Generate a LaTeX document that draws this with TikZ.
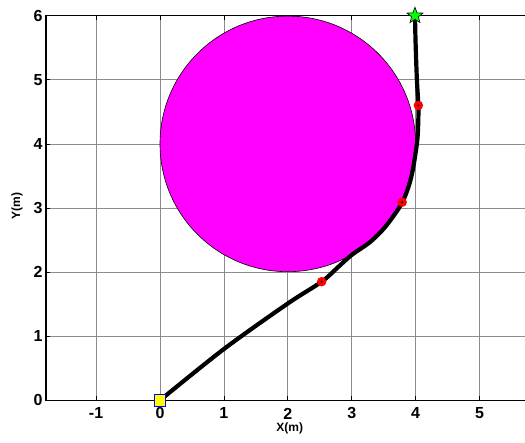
\documentclass[tikz,border=0pt]{standalone}
\usepackage{fontspec}
\setmainfont{Liberation Sans}
\usetikzlibrary{shapes.geometric}
\definecolor{mag}{RGB}{255,0,255}
\definecolor{grn}{RGB}{0,255,0}
\definecolor{yel}{RGB}{255,255,0}
\begin{document}
\begin{tikzpicture}[x=63.9pt,y=64.1pt,
  gridline/.style={draw=black!45,line width=0.7pt},
  axisline/.style={draw=black,line width=1.1pt},
  tickmark/.style={draw=black,line width=0.8pt},
  ticklab/.style={font=\fontsize{16}{18}\selectfont\bfseries,inner sep=0pt},
  axlab/.style={font=\fontsize{12}{14}\selectfont\bfseries,inner sep=0pt},
  traj/.style={draw=black,line width=4.2pt,line cap=round,line join=round},
  waypt/.style={circle,fill=red,minimum size=9.5pt,inner sep=0pt},
  wayctr/.style={circle,fill=black,minimum size=2.2pt,inner sep=0pt}]
\useasboundingbox (-2.504,-0.666) rectangle (5.712,6.245);
% grid
\foreach \gx in {-1,0,...,5} \draw[gridline] (\gx,0) -- (\gx,6);
\foreach \gy in {1,...,5} \draw[gridline] (-1.784,\gy) -- (5.712,\gy);
% ticks
\foreach \gx in {-1,0,...,5} {
  \draw[tickmark] (\gx,0) -- (\gx,0.07);
  \draw[tickmark] (\gx,6) -- (\gx,5.93);
}
\foreach \gy in {0,...,6} \draw[tickmark] (-1.784,\gy) -- (-1.72,\gy);
% obstacle
\node[circle,draw=black,line width=0.6pt,fill=mag,minimum size=255.6pt,inner sep=0pt] (obst) at (2,4) {};
% axes
\draw[axisline] (5.712,6) -- (-1.784,6) -- (-1.784,0) -- (5.712,0);
% tick labels
\foreach \gx in {-1,0,...,5} \node[ticklab] (xl\gx) at (\gx,-0.205) {\gx};
\foreach \gy in {0,...,6} \node[ticklab,anchor=east] (yl\gy) at (-1.835,\gy) {\gy};
\node[axlab] (xlab) at (2.03,-0.44) {X(m)};
\node[axlab,rotate=90] (ylab) at (-2.238,3.03) {Y(m)};
% trajectory
\draw[traj] plot[smooth,tension=0.5] coordinates {(0,0) (1,0.80) (2,1.51) (2.53,1.85) (2.779,2.071) (3.0,2.268) (3.286,2.468) (3.532,2.714) (3.791,3.087) (3.932,3.482) (4.02,4.0) (4.04,4.287) (4.043,4.601) (4.02,5.0) (4.0,5.57) (3.99,6)};
% waypoints
\foreach \n/\p in {w1/{(2.53,1.85)},w2/{(3.79,3.09)},w3/{(4.043,4.601)}} {
  \node[waypt] (\n) at \p {};
  \node[wayctr] (\n c) at (\n) {};
}
% start and goal
\node[rectangle,draw=blue,line width=0.8pt,fill=yel,minimum size=11.5pt,inner sep=0pt] (start) at (0,0) {};
\node[star,star points=5,star point ratio=2.4,draw=black,line width=0.6pt,fill=grn,minimum size=17pt,inner sep=0pt] (goal) at (3.99,6) {};
\end{tikzpicture}
\end{document}
